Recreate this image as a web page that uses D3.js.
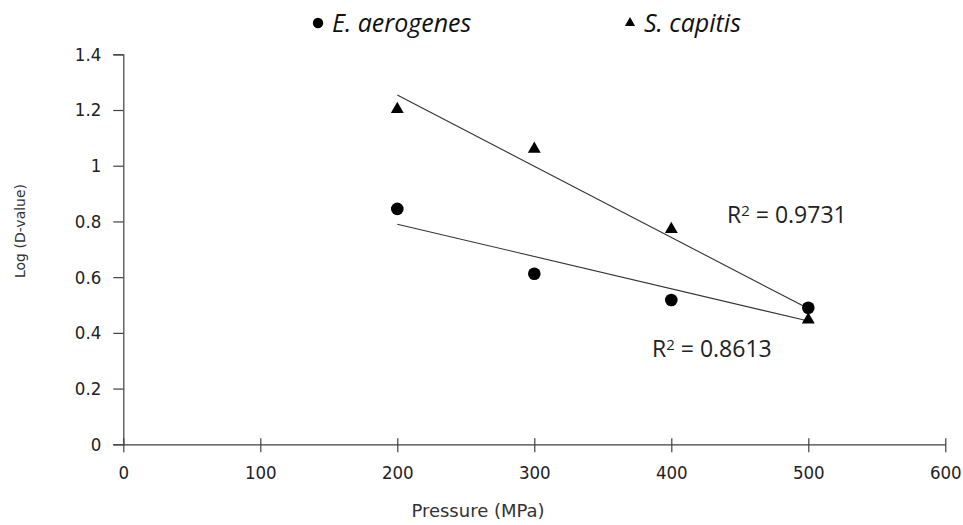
<!DOCTYPE html>
<html><head><meta charset="utf-8">
<script src="https://cdn.jsdelivr.net/npm/d3@7"></script>
<style>body{margin:0;background:#fff}svg{display:block}</style>
</head><body>
<script>
const pressures = [200, 300, 400, 500];
const aerogenes = [0.845, 0.612, 0.518, 0.49];
const capitis = [1.203, 1.06, 0.772, 0.447];
const seriesNames = ["E. aerogenes", "S. capitis"];
const r2Labels = ["0.8613", "0.9731"];
const xTicks = [0, 100, 200, 300, 400, 500, 600];
const yTicks = [0, 0.2, 0.4, 0.6, 0.8, 1, 1.2, 1.4];

const W = 963, H = 525;
const svg = d3.select("body").append("svg").attr("width", W).attr("height", H);
const x = d3.scaleLinear().domain([0, 600]).range([123.3, 945.3]);
const y = d3.scaleLinear().domain([0, 1.4]).range([444.3, 54.3]);
const axisColor = "#404040";
const tickFont = "'DejaVu Sans Condensed', 'DejaVu Sans', sans-serif";

// Y axis
const gy = svg.append("g").attr("transform", `translate(${x(0)},0)`)
  .call(d3.axisLeft(y).tickValues(yTicks).tickSize(10).tickPadding(12)
    .tickFormat(d => d3.format("~g")(d)));
gy.select(".domain").attr("stroke", axisColor).attr("stroke-width", 1.2);
gy.selectAll(".tick line").attr("stroke", axisColor).attr("stroke-width", 1.2);
gy.selectAll(".tick text").attr("font-family", tickFont).attr("font-size", 18.5).attr("fill", "#222");

// X axis
const gx = svg.append("g").attr("transform", `translate(0,${y(0)})`)
  .call(d3.axisBottom(x).tickValues(xTicks).tickSizeInner(8).tickSizeOuter(0).tickPadding(14));
gx.select(".domain").attr("stroke", axisColor).attr("stroke-width", 1.2);
gx.selectAll(".tick line").attr("stroke", axisColor).attr("stroke-width", 1.2).attr("y1", -6);
gx.selectAll(".tick text").attr("font-family", tickFont).attr("font-size", 18.5).attr("fill", "#222");

// axis titles
svg.append("text").attr("x", 478).attr("y", 517)
  .attr("text-anchor", "middle").attr("font-family", "'DejaVu Sans', sans-serif")
  .attr("font-size", 18).attr("fill", "#333").text("Pressure (MPa)");
svg.append("text").attr("transform", `translate(25,231) rotate(-90)`)
  .attr("text-anchor", "middle").attr("font-family", "'DejaVu Sans', sans-serif")
  .attr("font-size", 14).attr("fill", "#333").text("Log (D-value)");

// regression (least squares from the data)
function linreg(xs, ys) {
  const mx = d3.mean(xs), my = d3.mean(ys);
  let num = 0, den = 0;
  xs.forEach((xv, i) => { num += (xv - mx) * (ys[i] - my); den += (xv - mx) ** 2; });
  const b = num / den; return { a: my - b * mx, b };
}
[aerogenes, capitis].forEach(vals => {
  const r = linreg(pressures, vals);
  const x0 = d3.min(pressures), x1 = d3.max(pressures);
  svg.append("line").attr("x1", x(x0)).attr("y1", y(r.a + r.b * x0))
    .attr("x2", x(x1)).attr("y2", y(r.a + r.b * x1))
    .attr("stroke", "#333").attr("stroke-width", 1.1);
});

// markers
const circ = d3.symbol().type(d3.symbolCircle).size(125);
const tri = d3.symbol().type(d3.symbolTriangle).size(72);
svg.append("g").selectAll("path").data(pressures).join("path")
  .attr("d", circ).attr("transform", (d, i) => `translate(${x(d)},${y(aerogenes[i])})`).attr("fill", "#000");
svg.append("g").selectAll("path").data(pressures).join("path")
  .attr("d", tri).attr("transform", (d, i) => `translate(${x(d)},${y(capitis[i])})`).attr("fill", "#000");

// R² labels
const r2Font = "'Open Sans', 'Liberation Sans', sans-serif";
function r2(xp, yp, val) {
  const t = svg.append("text").attr("x", xp).attr("y", yp).attr("font-family", r2Font)
    .attr("font-size", 23).attr("fill", "#222");
  t.append("tspan").text("R");
  t.append("tspan").attr("font-size", 15).attr("dy", -7).text("2");
  t.append("tspan").attr("dy", 7).text(" = " + val);
}
r2(727, 223, r2Labels[1]);
r2(652, 357, r2Labels[0]);

// legend
const legFont = "'Open Sans', 'Liberation Sans', sans-serif";
svg.append("path").attr("d", d3.symbol().type(d3.symbolCircle).size(85)).attr("transform", "translate(318,23)").attr("fill", "#000");
svg.append("text").attr("x", 332).attr("y", 32).attr("font-family", legFont).attr("font-style", "italic")
  .attr("font-size", 25).attr("fill", "#111").text(seriesNames[0]);
svg.append("path").attr("d", d3.symbol().type(d3.symbolTriangle).size(45)).attr("transform", "translate(630,23)").attr("fill", "#000");
svg.append("text").attr("x", 644).attr("y", 32).attr("font-family", legFont).attr("font-style", "italic")
  .attr("font-size", 25).attr("fill", "#111").text(seriesNames[1]);
</script>
</body></html>
